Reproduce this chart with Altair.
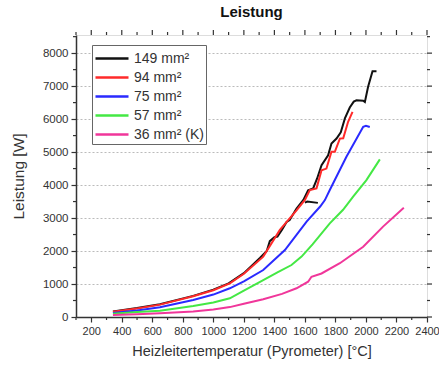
import altair as alt
import pandas as pd

series_names = ["149 mm²", "94 mm²", "75 mm²", "57 mm²", "36 mm² (K)"]
series_colors = ["#111111", "#ff2a2a", "#2a2aff", "#44e844", "#f0369a"]

black_T = [342, 500, 650, 868, 1000, 1100, 1200, 1305, 1350, 1370, 1400, 1420, 1450, 1480, 1500, 1545, 1590, 1621, 1654, 1680, 1709, 1752, 1774, 1807, 1835, 1862, 1894, 1920, 1938, 1982, 1993, 2014, 2043, 2069]
black_P = [170, 270, 385, 640, 830, 1020, 1330, 1790, 2000, 2300, 2420, 2440, 2650, 2880, 2940, 3290, 3550, 3840, 3900, 4200, 4600, 4900, 5260, 5410, 5600, 6020, 6350, 6530, 6570, 6560, 6520, 6980, 7450, 7450]
black_hook_T = [1600, 1615, 1685]
black_hook_P = [3470, 3500, 3460]

red_T = [342, 500, 650, 868, 1000, 1108, 1200, 1327, 1436, 1545, 1600, 1632, 1676, 1709, 1741, 1774, 1796, 1829, 1851, 1883, 1912]
red_P = [160, 260, 375, 630, 810, 1020, 1310, 1830, 2640, 3230, 3550, 3850, 3900, 4450, 4500, 5010, 5010, 5410, 5420, 5920, 6220]

blue_T = [342, 500, 650, 868, 1000, 1108, 1200, 1327, 1469, 1611, 1700, 1731, 1763, 1872, 1982, 2000, 2025]
blue_P = [120, 200, 293, 515, 680, 870, 1080, 1424, 2030, 2890, 3350, 3545, 3850, 4860, 5770, 5800, 5760]

green_T = [342, 500, 650, 868, 1000, 1108, 1200, 1327, 1420, 1512, 1578, 1650, 1763, 1850, 1916, 2003, 2091]
green_P = [100, 150, 192, 333, 440, 566, 800, 1120, 1350, 1576, 1830, 2200, 2840, 3250, 3650, 4150, 4780]

pink_T = [342, 500, 650, 868, 1000, 1108, 1200, 1327, 1450, 1545, 1621, 1643, 1709, 1829, 1982, 2112, 2248]
pink_P = [60, 85, 112, 165, 230, 300, 400, 540, 700, 870, 1070, 1220, 1320, 1630, 2130, 2740, 3310]

x_major = [200, 400, 600, 800, 1000, 1200, 1400, 1600, 1800, 2000, 2200, 2400]
x_minor = [100, 300, 500, 700, 900, 1100, 1300, 1500, 1700, 1900, 2100, 2300]
y_major = [0, 1000, 2000, 3000, 4000, 5000, 6000, 7000, 8000]
y_minor = [500, 1500, 2500, 3500, 4500, 5500, 6500, 7500, 8500]

rows = []
def add(name, seg, T, P):
    for i, (t, p) in enumerate(zip(T, P)):
        rows.append({"series": name, "seg": seg, "order": i, "T": t, "P": p})

add(series_names[0], "a", black_T, black_P)
add(series_names[0], "b", black_hook_T, black_hook_P)
add(series_names[1], "c", red_T, red_P)
add(series_names[2], "d", blue_T, blue_P)
add(series_names[3], "e", green_T, green_P)
add(series_names[4], "f", pink_T, pink_P)
df = pd.DataFrame(rows)

xmaj_df = pd.DataFrame({"T": x_major})
xmin_df = pd.DataFrame({"T": x_minor})
ymaj_df = pd.DataFrame({"P": y_major})
ymin_df = pd.DataFrame({"P": y_minor})

W, H = 351, 282
FONT = "Liberation Sans"
AX = "#333333"
xs = alt.Scale(domain=[100, 2400], nice=False, zero=False)
ys = alt.Scale(domain=[0, 8550], nice=False, zero=False)

x_axis = alt.Axis(values=x_major, tickSize=5, grid=False, format="d",
                  labelOverlap=False, labelFlush=False,
                  title="Heizleitertemperatur (Pyrometer) [°C]", titleFont=FONT, titleFontSize=14.5,
                  titleFontWeight="normal", titleColor=AX, titlePadding=8,
                  labelFont=FONT, labelFontSize=11, labelColor=AX, labelPadding=3,
                  domainColor=AX, domainWidth=1.5, tickColor=AX, tickWidth=1.2)
y_axis = alt.Axis(values=y_major, tickSize=5, grid=True, format="d",
                  labelOverlap=False, labelFlush=False,
                  gridDash=[2, 2], gridColor="#bbbbbb", gridWidth=1,
                  title="Leistung [W]", titleFont=FONT, titleFontSize=15.5, titleFontWeight="normal",
                  titleColor=AX, titlePadding=16,
                  labelFont=FONT, labelFontSize=11.5, labelColor=AX, labelPadding=3,
                  domainColor=AX, domainWidth=1.5, tickColor=AX, tickWidth=1.2)

X = lambda: alt.X("T:Q", scale=xs, axis=x_axis, title="Heizleitertemperatur (Pyrometer) [°C]")
Y = lambda: alt.Y("P:Q", scale=ys, axis=y_axis, title="Leistung [W]")

lines = alt.Chart(df).mark_line(strokeWidth=2, interpolate="linear").encode(
    x=X(), y=Y(),
    color=alt.Color("series:N", scale=alt.Scale(domain=series_names, range=series_colors),
                    sort=series_names,
                    legend=alt.Legend(orient="none", legendX=16, legendY=10, title=None,
                                      symbolType="M-1,0H2.3", symbolSize=400, symbolStrokeWidth=2.5,
                                      labelFont=FONT, labelFontSize=14, labelColor=AX,
                                      strokeColor="#666666", padding=2, rowPadding=0,
                                      fillColor="white", labelOffset=17)),
    detail="seg:N",
    order="order:Q",
)

tick_style = dict(color=AX, strokeWidth=1.2)

bottom_minor = alt.Chart(xmin_df).mark_rule(**tick_style).encode(
    x=X(), y=alt.value(H), y2=alt.value(H + 3))
top_major = alt.Chart(xmaj_df).mark_rule(**tick_style).encode(
    x=X(), y=alt.value(0), y2=alt.value(-5))
top_minor = alt.Chart(xmin_df).mark_rule(**tick_style).encode(
    x=X(), y=alt.value(0), y2=alt.value(-3))
left_minor = alt.Chart(ymin_df).mark_rule(**tick_style).encode(
    y=Y(), x=alt.value(0), x2=alt.value(-3))
right_major = alt.Chart(ymaj_df).mark_rule(**tick_style).encode(
    y=Y(), x=alt.value(W), x2=alt.value(W + 5))
right_minor = alt.Chart(ymin_df).mark_rule(**tick_style).encode(
    y=Y(), x=alt.value(W), x2=alt.value(W + 3))

chart = alt.layer(lines, bottom_minor, top_major, top_minor, left_minor, right_major, right_minor).properties(
    width=W, height=H,
    title=alt.TitleParams("Leistung", font=FONT, fontSize=15, fontWeight="bold", color="#111111",
                          anchor="middle", offset=9),
    autosize=alt.AutoSizeParams(type="none"),
    padding={"left": 76, "top": 35, "right": 12, "bottom": 52},
).configure_view(stroke=AX, strokeWidth=1.5).configure(background="white")

chart.save("out.html", embed_options={"renderer": "svg", "actions": False})
